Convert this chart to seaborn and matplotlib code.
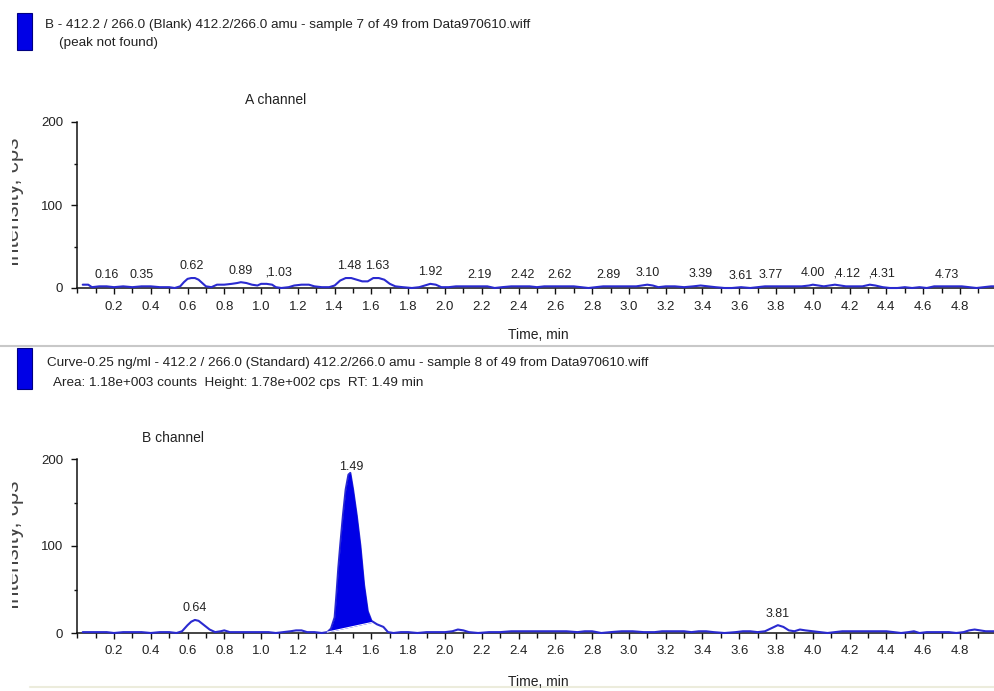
import numpy as np
import pandas as pd
import matplotlib
matplotlib.use("Agg")
import matplotlib.pyplot as plt
import seaborn as sns
from matplotlib import font_manager as fm
from matplotlib.patches import Rectangle
from matplotlib.lines import Line2D
from matplotlib.transforms import Bbox
from matplotlib.ticker import MultipleLocator, FixedLocator

# ---------------- data ----------------
title_a = "B - 412.2 / 266.0 (Blank) 412.2/266.0 amu - sample 7 of 49 from Data970610.wiff"
sub_a = "(peak not found)"
title_b = "Curve-0.25 ng/ml - 412.2 / 266.0 (Standard) 412.2/266.0 amu - sample 8 of 49 from Data970610.wiff"
sub_b = "Area: 1.18e+003 counts  Height: 1.78e+002 cps  RT: 1.49 min"
channel_a = "A channel"
channel_b = "B channel"
x_label = "Time, min"
y_label = "Intensity, cps"

x_ticks = [0.2, 0.4, 0.6, 0.8, 1.0, 1.2, 1.4, 1.6, 1.8, 2.0, 2.2, 2.4,
           2.6, 2.8, 3.0, 3.2, 3.4, 3.6, 3.8, 4.0, 4.2, 4.4, 4.6, 4.8]
x_tick_labels = ["0.2", "0.4", "0.6", "0.8", "1.0", "1.2", "1.4", "1.6", "1.8", "2.0", "2.2", "2.4",
                 "2.6", "2.8", "3.0", "3.2", "3.4", "3.6", "3.8", "4.0", "4.2", "4.4", "4.6", "4.8"]
y_ticks = [0, 100, 200]
y_tick_labels = ["0", "100", "200"]

time_a = [0.03, 0.06, 0.08, 0.12, 0.16, 0.20, 0.25, 0.30, 0.35, 0.40, 0.45, 0.50, 0.53, 0.56,
          0.58, 0.60, 0.62, 0.64, 0.66, 0.68, 0.70, 0.73, 0.76, 0.80, 0.84, 0.87, 0.89, 0.92,
          0.95, 0.98, 1.00, 1.03, 1.06, 1.08, 1.11, 1.15, 1.18, 1.22, 1.26, 1.29, 1.33, 1.37,
          1.40, 1.43, 1.46, 1.49, 1.52, 1.55, 1.58, 1.61, 1.64, 1.67, 1.70, 1.73, 1.77, 1.82,
          1.86, 1.89, 1.92, 1.95, 1.98, 2.02, 2.06, 2.10, 2.15, 2.19, 2.23, 2.27, 2.31, 2.36,
          2.42, 2.46, 2.50, 2.54, 2.58, 2.62, 2.66, 2.70, 2.74, 2.78, 2.82, 2.86, 2.90, 2.95,
          3.00, 3.04, 3.07, 3.10, 3.13, 3.16, 3.20, 3.25, 3.30, 3.35, 3.39, 3.43, 3.47, 3.52,
          3.56, 3.61, 3.66, 3.70, 3.74, 3.77, 3.82, 3.86, 3.90, 3.94, 3.98, 4.00, 4.03, 4.06,
          4.09, 4.12, 4.15, 4.18, 4.22, 4.27, 4.31, 4.34, 4.38, 4.42, 4.46, 4.50, 4.54, 4.58,
          4.62, 4.66, 4.70, 4.73, 4.77, 4.81, 4.85, 4.89, 4.93, 4.97, 5.00]
inten_a = [4, 4, 1, 2, 2, 1, 2, 1, 2, 2, 1, 1, 0, 2,
           7, 11, 12, 12, 10, 6, 2, 1, 4, 4, 5, 6, 7, 6,
           4, 3, 5, 5, 4, 1, 0, 1, 3, 4, 4, 2, 1, 1,
           3, 9, 12, 12, 10, 8, 8, 12, 12, 10, 5, 2, 1, 0,
           1, 3, 5, 4, 1, 1, 2, 2, 2, 2, 2, 0, 1, 2,
           2, 2, 1, 2, 2, 2, 2, 2, 1, 0, 1, 2, 2, 2,
           2, 2, 3, 4, 3, 1, 2, 2, 1, 2, 3, 2, 1, 0,
           0, 1, 0, 1, 2, 2, 2, 2, 2, 2, 3, 4, 3, 2,
           3, 4, 3, 2, 2, 2, 4, 3, 1, 0, 0, 1, 0, 1,
           0, 2, 2, 2, 2, 2, 1, 0, 1, 2, 2]
peaks_a = [0.16, 0.35, 0.62, 0.89, 1.03, 1.48, 1.63, 1.92, 2.19, 2.42, 2.62, 2.89,
           3.10, 3.39, 3.61, 3.77, 4.00, 4.12, 4.31, 4.73]
# peaks whose label carries a small leader mark and starts at the peak
marked_a = [1.03, 4.12, 4.31]

time_b = [0.03, 0.08, 0.12, 0.16, 0.20, 0.25, 0.30, 0.35, 0.40, 0.45, 0.50, 0.54, 0.57, 0.60,
          0.62, 0.64, 0.66, 0.69, 0.72, 0.75, 0.78, 0.80, 0.83, 0.88, 0.92, 0.96, 1.00, 1.04,
          1.08, 1.12, 1.16, 1.19, 1.22, 1.25, 1.29, 1.33, 1.36, 1.38, 1.40, 1.41, 1.42, 1.43,
          1.445, 1.46, 1.475, 1.485, 1.50, 1.52, 1.54, 1.56, 1.58, 1.60, 1.63, 1.665, 1.69, 1.72,
          1.76, 1.80, 1.85, 1.90, 1.95, 2.00, 2.04, 2.07, 2.10, 2.13, 2.18, 2.24, 2.30, 2.36,
          2.42, 2.48, 2.54, 2.60, 2.66, 2.72, 2.76, 2.80, 2.85, 2.90, 2.96, 3.02, 3.08, 3.14,
          3.18, 3.24, 3.30, 3.34, 3.38, 3.42, 3.46, 3.52, 3.58, 3.62, 3.66, 3.70, 3.74, 3.77,
          3.81, 3.84, 3.87, 3.90, 3.93, 3.96, 4.00, 4.04, 4.08, 4.12, 4.16, 4.22, 4.28, 4.34,
          4.40, 4.44, 4.48, 4.52, 4.55, 4.58, 4.62, 4.66, 4.70, 4.74, 4.78, 4.82, 4.85, 4.88,
          4.91, 4.94, 4.97, 5.00]
inten_b = [1, 1, 1, 1, 0, 1, 1, 1, 0, 1, 1, 0, 2, 9,
           13, 15, 14, 9, 4, 1, 2, 3, 1, 1, 1, 1, 1, 1,
           0, 1, 2, 3, 3, 1, 1, 0, 1, 5, 18, 45, 75, 100,
           135, 165, 182, 184, 165, 135, 100, 55, 25, 14, 10, 7, 1, 0,
           1, 1, 0, 1, 1, 1, 2, 4, 3, 1, 0, 1, 1, 2,
           2, 2, 2, 2, 2, 1, 2, 2, 0, 1, 2, 2, 1, 1,
           2, 2, 2, 1, 2, 2, 1, 0, 1, 2, 2, 1, 2, 5,
           9, 7, 3, 2, 4, 3, 2, 1, 0, 1, 2, 2, 2, 2,
           2, 1, 0, 1, 2, 0, 1, 1, 1, 1, 0, 1, 3, 4,
           3, 2, 2, 2]
peaks_b = [0.64, 1.49, 3.81]
marked_b = []
# integrated peak: baseline end points (time, intensity)
fill_base_time = [1.36, 1.60]
fill_base_inten = [1, 12]

# ---------------- style ----------------
sns.set_style("ticks")
REG = ["Liberation Sans", "DejaVu Sans"]
plt.rcParams["font.family"] = REG
plt.rcParams["text.color"] = "#222222"

W, H = 994, 691
fig = plt.figure(figsize=(W / 100, H / 100), dpi=100)
fig.patch.set_facecolor("white")

def fx(px):
    return px / W

def fy(py):
    return 1 - py / H

TRACE = "#2a2ad0"
FILL = "#0000e6"

ax_a = fig.add_axes([fx(77.2), (H - 288) / H, 5.0 * 183.9 / W, 166 / H])
ax_b = fig.add_axes([fx(77.2), (H - 633) / H, 5.0 * 183.9 / W, 174 / H])

for ax, t, y, peaks, marked in [(ax_a, time_a, inten_a, peaks_a, marked_a),
                                (ax_b, time_b, inten_b, peaks_b, marked_b)]:
    df = pd.DataFrame({"time": t, "inten": y})
    sns.lineplot(data=df, x="time", y="inten", ax=ax, color=TRACE, lw=1.5,
                 estimator=None, sort=False, clip_on=False, zorder=3)
    ax.set_xlim(0, 5.0)
    ax.set_ylim(0, 200)
    ax.set_xlabel("")
    ax.set_ylabel("")
    ax.set_facecolor("white")
    sns.despine(ax=ax)
    for s in ("left", "bottom"):
        ax.spines[s].set_linewidth(1.1)
        ax.spines[s].set_color("#111111")
    ax.xaxis.set_major_locator(FixedLocator(x_ticks))
    ax.set_xticklabels(x_tick_labels)
    ax.xaxis.set_minor_locator(MultipleLocator(0.1))
    ax.yaxis.set_major_locator(FixedLocator(y_ticks))
    ax.set_yticklabels(y_tick_labels)
    ax.yaxis.set_minor_locator(FixedLocator([50, 150]))
    ax.tick_params(axis="x", which="major", length=4, width=1, pad=5, labelsize=9.5,
                   colors="#111111", labelcolor="#222222")
    ax.tick_params(axis="x", which="minor", length=3.5, width=1, colors="#111111")
    ax.tick_params(axis="y", which="major", length=4, width=1, pad=6, labelsize=9.5,
                   colors="#111111", labelcolor="#222222")
    ax.tick_params(axis="y", which="minor", length=2.5, width=1, colors="#111111")
    for p in peaks:
        h = np.interp(p, t, y)
        if p in marked:
            ax.annotate("\u201a" + f"{p:.2f}", xy=(p, h), xytext=(-1, 4),
                        textcoords="offset points", ha="left", va="bottom",
                        fontsize=9, color="#222222", zorder=5)
        else:
            ax.annotate(f"{p:.2f}", xy=(p, h), xytext=(0, 4), textcoords="offset points",
                        ha="center", va="bottom", fontsize=9, color="#222222", zorder=5)

# filled integrated peak on channel B
tb = np.array(time_b, dtype=float)
yb = np.array(inten_b, dtype=float)
m = (tb >= fill_base_time[0]) & (tb <= fill_base_time[1])
base = np.interp(tb[m], fill_base_time, fill_base_inten)
ax_b.fill_between(tb[m], base, yb[m], color=FILL, lw=0, zorder=4)
ax_b.plot(fill_base_time, fill_base_inten, color="white", lw=0.8, zorder=4)

# ---------------- figure texts ----------------
fig.text(fx(45), fy(25), title_a, fontsize=9.7, va="center", ha="left")
fig.text(fx(59), fy(43), sub_a, fontsize=9.7, va="center", ha="left")
fig.text(fx(47), fy(363), title_b, fontsize=9.7, va="center", ha="left")
fig.text(fx(53), fy(383), sub_b, fontsize=9.7, va="center", ha="left")
fig.text(fx(276), fy(100), channel_a, fontsize=10, va="center", ha="center")
fig.text(fx(173), fy(438), channel_b, fontsize=10, va="center", ha="center")
fig.text(fx(538), fy(335), x_label, fontsize=10, va="center", ha="center")
fig.text(fx(538), fy(682), x_label, fontsize=10, va="center", ha="center")

for yc in (202, 545):
    tx = fig.text(fx(19), fy(yc), y_label, fontsize=16, rotation=90,
                  rotation_mode="anchor", ha="center", va="baseline", color="#444444")
    tx.set_clip_on(True)
    tx.set_clip_box(Bbox.from_extents(12, 0, W, H))

# blue marker rectangles
fig.patches.append(Rectangle((fx(17), fy(50)), 15 / W, 37 / H, transform=fig.transFigure,
                             facecolor=FILL, edgecolor="#000080", lw=0.8, figure=fig))
fig.patches.append(Rectangle((fx(17), fy(389)), 15 / W, 41 / H, transform=fig.transFigure,
                             facecolor=FILL, edgecolor="#000080", lw=0.8, figure=fig))

# separator lines
fig.lines.append(Line2D([0, 1], [fy(346), fy(346)], transform=fig.transFigure,
                        color="#c8c8c8", lw=1.5, figure=fig))
fig.lines.append(Line2D([0.03, 1], [fy(687), fy(687)], transform=fig.transFigure,
                        color="#ececdc", lw=1.5, figure=fig))

fig.savefig("out.png", dpi=100, facecolor="white")
